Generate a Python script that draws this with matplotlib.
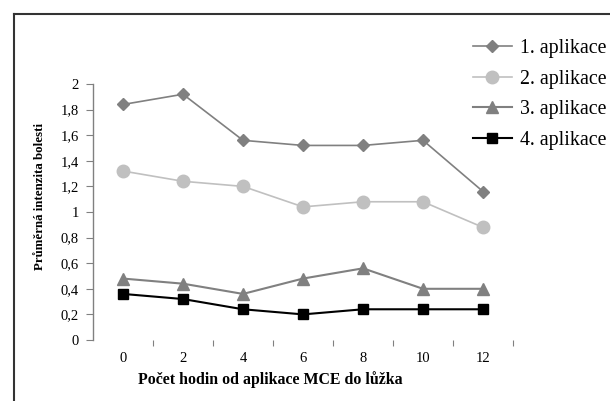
import matplotlib
matplotlib.use("Agg")
import matplotlib.pyplot as plt
from matplotlib.lines import Line2D

plt.rcParams['font.family'] = ['Liberation Serif', 'DejaVu Serif']

hours = ["0", "2", "4", "6", "8", "10", "12"]
app1 = [1.84, 1.92, 1.56, 1.52, 1.52, 1.56, 1.16]
app2 = [1.32, 1.24, 1.20, 1.04, 1.08, 1.08, 0.88]
app3 = [0.48, 0.44, 0.36, 0.48, 0.56, 0.40, 0.40]
app4 = [0.36, 0.32, 0.24, 0.20, 0.24, 0.24, 0.24]
labels = ["1. aplikace", "2. aplikace", "3. aplikace", "4. aplikace"]
yticks = [0, 0.2, 0.4, 0.6, 0.8, 1.0, 1.2, 1.4, 1.6, 1.8, 2.0]
ytick_labels = ["0", "0,2", "0,4", "0,6", "0,8", "1", "1,2", "1,4", "1,6", "1,8", "2"]

W, H = 610, 401
fig = plt.figure(figsize=(W/100, H/100), dpi=100)
ax = fig.add_axes([93/W, (H-340)/H, (513-93)/W, (340-84)/H])

x = list(range(len(hours)))
styles = [
    dict(color="#808080", marker="D", markersize=6.5, lw=1.2),
    dict(color="#c0c0c0", marker="o", markersize=9, lw=1.2),
    dict(color="#808080", marker="^", markersize=9, lw=1.5),
    dict(color="black", marker="s", markersize=7, lw=1.5),
]
handles = []
for data, st, lab in zip([app1, app2, app3, app4], styles, labels):
    ln, = ax.plot(x, data, color=st["color"], marker=st["marker"],
                  markersize=st["markersize"], lw=st["lw"],
                  markerfacecolor=st["color"], markeredgecolor=st["color"],
                  label=lab, clip_on=False)
    handles.append(ln)

ax.set_xlim(-0.5, len(hours) - 0.5)
ax.set_ylim(0, 2)
ax.set_yticks(yticks)
ax.set_yticklabels(ytick_labels, fontsize=10.5)
ax.set_xticks(x)
ax.set_xticklabels(hours, fontsize=10.5)
ax.set_xticks([i + 0.5 for i in x], minor=True)
ax.tick_params(axis='x', which='major', length=0, pad=9)
ax.tick_params(axis='x', which='minor', length=4, color="#808080", width=0.8)
ax.tick_params(axis='y', length=5, color="#808080", width=0.8, pad=5)

for s in ["top", "right", "bottom"]:
    ax.spines[s].set_visible(False)
ax.spines["left"].set_color("#808080")
ax.spines["left"].set_linewidth(1.0)

ax.set_ylabel("Průměrná intenzita bolesti", fontsize=9.3, fontweight="bold")
ax.yaxis.set_label_coords((40 - 93) / 420, (340 - 197) / 256)
ax.set_xlabel("Počet hodin od aplikace MCE do lůžka", fontsize=11.4, fontweight="bold")
ax.xaxis.set_label_coords((270 - 93) / 420, -(380 - 340) / 256)
ax.xaxis.label.set_va("center")
ax.yaxis.label.set_va("center")

leg = fig.legend(handles=handles, labels=labels, loc="upper left",
                 bbox_to_anchor=(473/W, 1 - 39/H), frameon=False,
                 fontsize=14.3, handlelength=1.96, handletextpad=0.4,
                 labelspacing=0.59, borderaxespad=0, borderpad=0)

# figure border (top and left)
fig.add_artist(Line2D([14/W, 1], [1 - 14/H, 1 - 14/H], transform=fig.transFigure,
                      color="#333333", lw=1.5))
fig.add_artist(Line2D([14/W, 14/W], [0, 1 - 14/H], transform=fig.transFigure,
                      color="#333333", lw=1.5))

fig.savefig("out.png", dpi=100)
